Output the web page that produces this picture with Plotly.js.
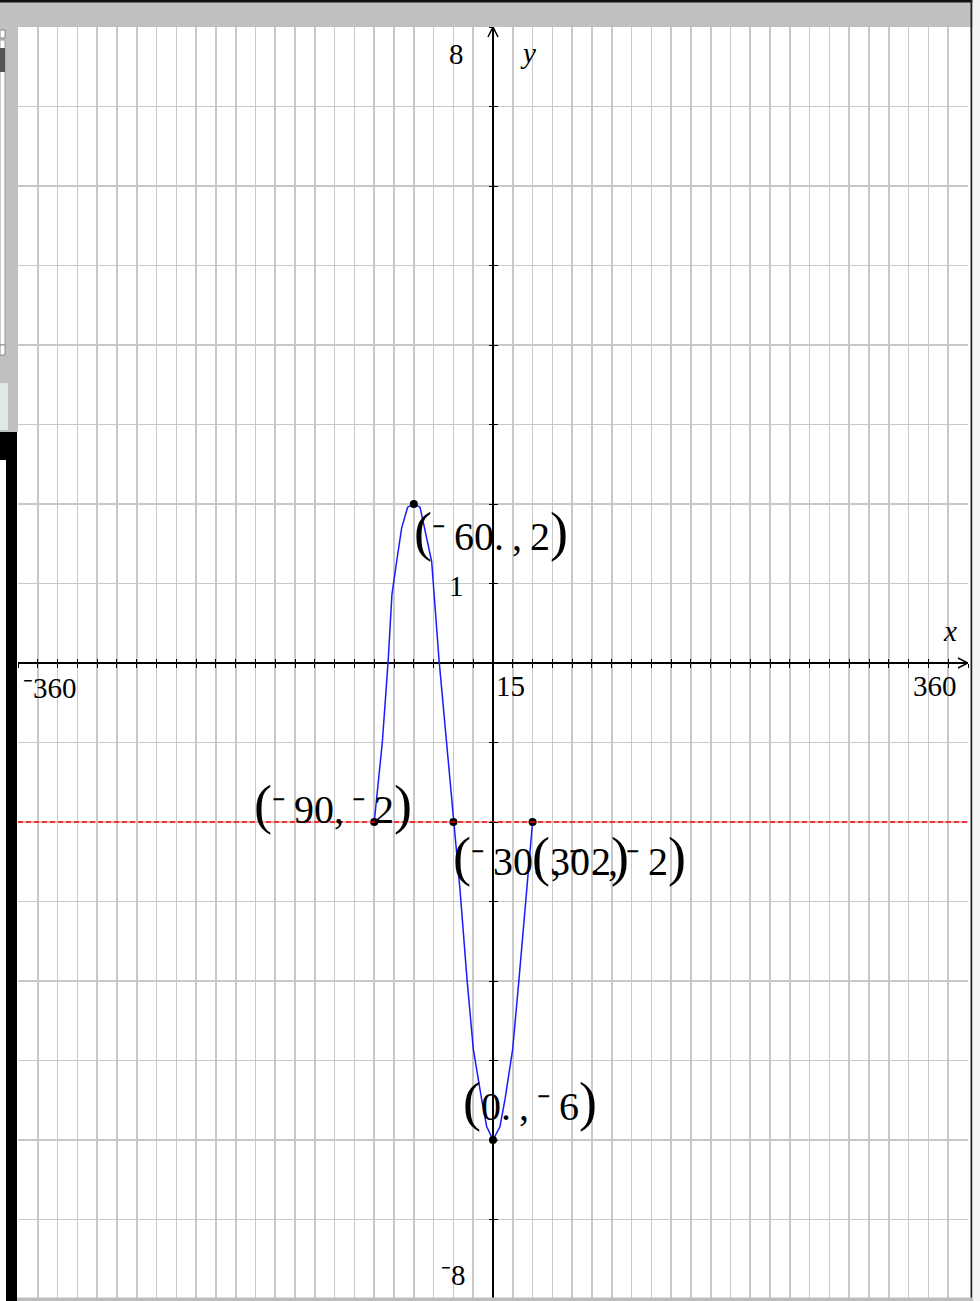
<!DOCTYPE html>
<html>
<head>
<meta charset="utf-8">
<script src="https://cdn.plot.ly/plotly-3.0.1.min.js"></script>
<style>
  body { margin: 0; background: #fff; }
  #plot { width: 980px; height: 1301px; }
</style>
</head>
<body>
<div id="plot"></div>
<script>
// curve (degrees, y)
var curveX = [-90, -87.7, -83.9, -79.4, -76.6, -73, -69.2, -64.7, -60, -55.3, -46.5, -40.9, -35.1, -30,
              -25, -19.7, -14.9, -8.6, -4.8, 0, 5.3, 9.1, 14.9, 19.7, 25.5, 30];
var curveY = [-2, -1.63, -1.0, 0.04, 0.86, 1.28, 1.7, 1.96, 2, 1.96, 1.28, 0.04, -1.0, -2,
              -2.85, -3.98, -4.86, -5.49, -5.83, -6, -5.83, -5.49, -4.86, -3.98, -2.85, -2];

// labelled points
var ptX = [-60, -90, -30, 30, 0];
var ptY = [2, -2, -2, -2, -6];
var ptText = ["(⁻60. , 2)", "(⁻90, ⁻2)", "(⁻30. , ⁻2)", "(30. , ⁻2)", "(0. , ⁻6)"];

// horizontal dashed line
var hLineX = [-360, 360];
var hLineY = [-2, -2];

// axis labels
var tickX = [0, 0, -360, 15, 360, 0];
var tickY = [8, 1, 0, 0, 0, -8];
var tickText = ["8", "1", "⁻360", "15", "360", "⁻8"];

var serif = "Liberation Serif, Times New Roman, serif";

// label placement (pixels)
var ptShift = [
  {xa: "left",  dx: -2,  dy: -28},
  {xa: "right", dx: 40,  dy: 17},
  {xa: "left",  dx: -2,  dy: -35},
  {xa: "left",  dx: -3,  dy: -35},
  {xa: "left",  dx: -32, dy: 38}
];
var tickShift = [[-37, -26.5], [-37, -2], [32, -24.5], [-2, -23], [-33, -23], [-40, 24.5]];

function bigParens(s) {
  return s.replace(/ /g, "\u2009")
          .replace(/⁻/g, "⁻\u2009")
          .replace("(", '<span style="font-size:54px">(</span>')
          .replace(")", '<span style="font-size:54px">)</span>');
}

var annotations = [];
ptText.forEach(function (t, i) {
  annotations.push({
    x: ptX[i], y: ptY[i], xref: "x", yref: "y",
    text: bigParens(t), showarrow: false,
    xanchor: ptShift[i].xa, yanchor: "middle",
    xshift: ptShift[i].dx, yshift: ptShift[i].dy,
    font: {family: serif, size: 40, color: "#000"}
  });
});
tickText.forEach(function (t, i) {
  annotations.push({
    x: tickX[i], y: tickY[i], xref: "x", yref: "y",
    text: t, showarrow: false, xanchor: "center", yanchor: "middle",
    xshift: tickShift[i][0], yshift: tickShift[i][1],
    font: {family: serif, size: 29, color: "#000"}
  });
});
annotations.push({x: 360, y: 0, text: "<i>x</i>", showarrow: false, xshift: -18, yshift: 32.5,
  font: {family: serif, size: 29, color: "#000"}});
annotations.push({x: 0, y: 8, text: "<i>y</i>", showarrow: false, xshift: 35, yshift: -25.5,
  font: {family: serif, size: 29, color: "#000"}});

// screen frame around the graph
function pxX(p) { return (p - 18) / 950; }
function pxY(p) { return (1299 - p) / 1272; }
function rect(x0, y0, x1, y1, fill, lc) {
  return {type: "rect", xref: "paper", yref: "paper", layer: "above",
    x0: pxX(x0), x1: pxX(x1), y0: pxY(y0), y1: pxY(y1),
    fillcolor: fill, line: {width: lc ? 1 : 0, color: lc || fill}};
}

var shapes = [
  rect(0, 0, 980, 27, "#c0c0c0"),
  rect(0, 0, 973, 2.5, "#111"),
  rect(970.5, 0, 972.5, 1301, "#222"),
  rect(972.5, 0, 980, 1301, "#f4f4f4"),
  rect(0, 27, 18, 432, "#c0c0c0"),
  rect(0, 40, 5, 345, "#ffffff", "#999"),
  rect(0, 30, 5, 38, "#ffffff", "#888"),
  rect(0, 48, 5, 72, "#555"),
  rect(0, 345, 5, 355, "#ffffff", "#888"),
  rect(0, 383, 8, 430, "#dfe7e7"),
  rect(0, 432, 17, 1301, "#000"),
  rect(0, 460, 6, 1301, "#ffffff"),
  rect(17, 1297.5, 972, 1301, "#bdbdbd"),
  // arrow heads
  {type: "path", xref: "x", yref: "y", xsizemode: "pixel", ysizemode: "pixel",
   xanchor: 360, yanchor: 0, path: "M-10,5L0,0L-10,-5", line: {color: "#000", width: 1.5}},
  {type: "path", xref: "x", yref: "y", xsizemode: "pixel", ysizemode: "pixel",
   xanchor: 0, yanchor: 8, path: "M-5,-10L0,0L5,-10", line: {color: "#000", width: 1.5}}
];

var curve = {x: curveX, y: curveY, mode: "lines", type: "scatter",
  line: {color: "#1a1aff", width: 1.5}, hoverinfo: "skip"};
var dashed = {x: hLineX, y: hLineY, mode: "lines", type: "scatter", xaxis: "x2", yaxis: "y2",
  line: {color: "#ff0000", width: 1.4, dash: "5px,3px"}, hoverinfo: "skip"};
var points = {x: ptX, y: ptY, mode: "markers", type: "scatter",
  marker: {color: "#000", size: 8}, hoverinfo: "skip"};

var axBase = {showticklabels: false, ticklen: 4, tickcolor: "#000", tickwidth: 1, showline: false};

var layout = {
  width: 980, height: 1301,
  margin: {l: 18, r: 12, t: 27, b: 2, pad: 0},
  paper_bgcolor: "#fff", plot_bgcolor: "#fff",
  showlegend: false,
  xaxis: Object.assign({}, axBase, {range: [-360, 360], tick0: 0, dtick: 15, anchor: "free", position: 0.5,
    ticks: "outside", showgrid: true, gridcolor: "#c8c8c8", gridwidth: 1.6,
    zeroline: true, zerolinecolor: "#000", zerolinewidth: 1.5}),
  yaxis: Object.assign({}, axBase, {range: [-8, 8], tick0: 0, dtick: 1, anchor: "free", position: 0.5,
    ticks: "outside", showgrid: true, gridcolor: "#c8c8c8", gridwidth: 1.6,
    zeroline: true, zerolinecolor: "#000", zerolinewidth: 1.5}),
  xaxis2: Object.assign({}, axBase, {range: [-360, 360], tick0: 0, dtick: 15, overlaying: "x",
    anchor: "free", position: 0.5, ticks: "inside", showgrid: false, zeroline: false}),
  yaxis2: Object.assign({}, axBase, {range: [-8, 8], tick0: 0, dtick: 1, overlaying: "y",
    anchor: "free", position: 0.5, ticks: "inside", showgrid: false, zeroline: false}),
  annotations: annotations,
  shapes: shapes
};

Plotly.newPlot("plot", [dashed, curve, points], layout, {staticPlot: true, displayModeBar: false});
</script>
</body>
</html>
